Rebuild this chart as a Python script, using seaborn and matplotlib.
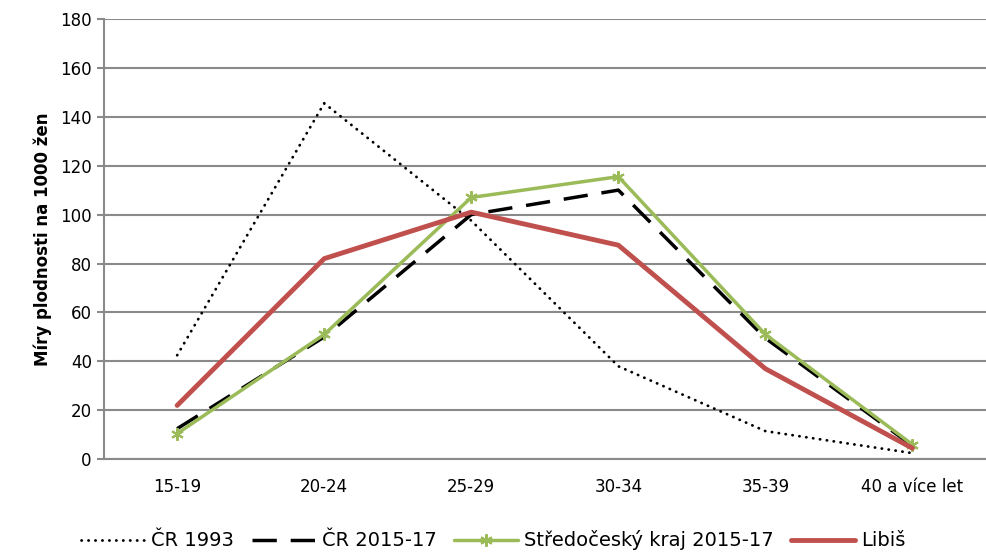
import pandas as pd
import matplotlib.pyplot as plt
import seaborn as sns

age_groups = ['15-19', '20-24', '25-29', '30-34', '35-39', '40 a více let']
cr_1993 = [42.5, 145.5, 97.5, 38, 11.5, 2.5]
cr_2015 = [12.5, 50, 100, 110, 49.5, 5.5]
stredocesky = [10.5, 51, 107, 115.5, 51, 6]
libis = [22, 82, 101, 87.5, 37, 4.5]

sns.set_style('white')
plt.rcParams['font.family'] = ['DejaVu Sans']

df = pd.DataFrame({'vek': age_groups, 'cr1993': cr_1993, 'cr2015': cr_2015,
                   'stc': stredocesky, 'libis': libis})

fig = plt.figure(figsize=(9.87, 5.54), dpi=100)
ax = fig.add_axes([0.105, 0.171, 0.894, 0.795])

sns.lineplot(data=df, x='vek', y='cr1993', ax=ax, color='black', linewidth=2,
             label='ČR 1993', sort=False)
ax.lines[-1].set_linestyle((0, (0.1, 2.4)))
ax.lines[-1].set_dash_capstyle('round')
sns.lineplot(data=df, x='vek', y='cr2015', ax=ax, color='black', linewidth=2.5,
             label='ČR 2015-17', sort=False)
ax.lines[-1].set_dashes((7, 4))
sns.lineplot(data=df, x='vek', y='stc', ax=ax, color='#9BBB59', linewidth=2.5,
             marker=(6, 2, 0), markersize=9, markeredgewidth=1.5,
             markeredgecolor='#9BBB59', label='Středočeský kraj 2015-17', sort=False)
sns.lineplot(data=df, x='vek', y='libis', ax=ax, color='#C0504D', linewidth=3.5,
             label='Libiš', sort=False)

ax.set_xlim(-0.5, 5.5)
ax.set_ylim(0, 180)
ax.set_yticks(range(0, 181, 20))
ax.yaxis.grid(True, color='#8a8a8a', linewidth=1.5)
ax.set_axisbelow(True)
for side in ['top', 'right']:
    ax.spines[side].set_visible(False)
for side in ['left', 'bottom']:
    ax.spines[side].set_color('#8a8a8a')
    ax.spines[side].set_linewidth(1.5)
ax.tick_params(axis='y', left=True, length=5, color='#8a8a8a', width=1.5,
               labelsize=12, labelcolor='black')
ax.tick_params(axis='x', bottom=False, labelsize=12, pad=10, labelcolor='black')
ax.set_xlabel('')
ax.set_ylabel('Míry plodnosti na 1000 žen', fontsize=12, fontweight='bold',
              labelpad=6, color='black')

ax.get_legend().remove()
handles, labels = ax.get_legend_handles_labels()
leg = fig.legend(handles, labels, loc='lower center', ncol=4, frameon=False,
                 bbox_to_anchor=(0.5, -0.025), handlelength=3.3,
                 handletextpad=0.3, columnspacing=0.9,
                 prop={'family': 'DejaVu Sans', 'size': 14})
for t in leg.get_texts():
    t.set_color('black')

plt.savefig('out.png', dpi=100)
